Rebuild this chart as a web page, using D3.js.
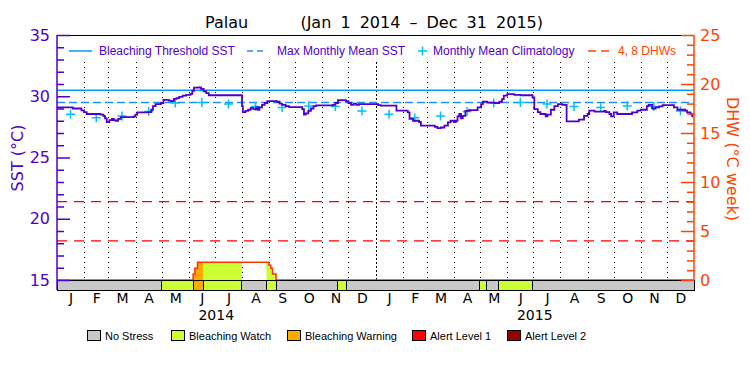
<!DOCTYPE html>
<html><head><meta charset="utf-8">
<script src="https://cdn.jsdelivr.net/npm/d3@7"></script>
<style>body{margin:0;background:#fff}svg{display:block}</style>
</head><body><svg id="c" width="750" height="375"></svg>
<script>
// ---------------- DATA ----------------
const titleSite = "Palau";
const titlePeriod = "(Jan 1 2014 \u2013 Dec 31 2015)";
const monthLetters = ["J","F","M","A","M","J","J","A","S","O","N","D"];
const yearLabels = ["2014","2015"];
const sstTicks = [15,20,25,30,35];
const dhwTicks = [0,5,10,15,20,25];
const mmm = 29.5;          // Max Monthly Mean SST
const threshold = 30.5;    // Bleaching Threshold SST
const dhwLevels = [4, 8];
const climatology = [28.54,28.24,28.38,28.76,29.45,29.5,29.36,29.17,29.09,29.2,29.17,28.79];
const sstSeries = [
 ["2014-01-01",29.1],["2014-01-19",29.0],["2014-01-29",28.85],["2014-02-01",28.7],["2014-02-04",28.55],
 ["2014-02-20",28.5],["2014-02-23",28.4],["2014-02-25",28.2],["2014-02-27",27.9],["2014-03-02",28.05],
 ["2014-03-05",28.15],["2014-03-07",28.05],["2014-03-09",28.0],["2014-03-12",28.15],["2014-03-15",28.3],
 ["2014-03-30",28.35],["2014-04-01",28.5],["2014-04-03",28.68],["2014-04-15",28.7],["2014-04-19",28.9],
 ["2014-04-21",29.2],["2014-04-24",29.35],["2014-04-30",29.45],["2014-05-03",29.7],["2014-05-09",29.65],
 ["2014-05-12",29.6],["2014-05-15",29.78],["2014-05-18",29.85],["2014-05-21",29.95],["2014-05-25",30.05],
 ["2014-05-29",30.12],["2014-06-03",30.2],["2014-06-05",30.45],["2014-06-07",30.7],["2014-06-12",30.72],
 ["2014-06-15",30.6],["2014-06-18",30.4],["2014-06-21",30.25],["2014-06-24",30.08],["2014-08-01",29.2],
 ["2014-08-02",28.7],["2014-08-05",28.8],["2014-08-08",28.9],["2014-08-11",29.05],["2014-08-14",28.95],
 ["2014-08-17",29.1],["2014-08-19",28.9],["2014-08-21",29.1],["2014-08-24",29.3],["2014-08-27",29.45],
 ["2014-08-30",29.6],["2014-09-10",29.55],["2014-09-13",29.4],["2014-09-16",29.3],["2014-09-20",29.2],
 ["2014-09-24",29.12],["2014-10-09",28.95],["2014-10-11",28.5],["2014-10-13",28.6],["2014-10-16",28.8],
 ["2014-10-19",29.0],["2014-10-22",29.2],["2014-10-25",29.25],["2014-11-13",29.3],["2014-11-16",29.45],
 ["2014-11-19",29.68],["2014-11-28",29.6],["2014-12-01",29.45],["2014-12-04",29.3],["2014-12-07",29.4],
 ["2014-12-10",29.3],["2014-12-13",29.35],
 ["2015-01-04",29.28],["2015-01-07",29.23],["2015-01-25",28.82],["2015-02-07",28.68],["2015-02-09",28.15],
 ["2015-02-13",28.0],["2015-02-20",27.9],["2015-02-22",27.6],["2015-03-10",27.5],["2015-03-13",27.4],
 ["2015-03-17",27.45],["2015-03-21",27.6],["2015-03-25",27.86],["2015-03-28",28.0],["2015-04-01",27.9],
 ["2015-04-03",28.0],["2015-04-05",28.35],["2015-04-07",28.55],["2015-04-09",28.2],["2015-04-11",28.4],
 ["2015-04-14",28.8],["2015-04-18",28.87],["2015-04-28",29.1],["2015-05-02",29.36],["2015-05-04",29.55],
 ["2015-05-09",29.48],["2015-05-17",29.45],["2015-05-23",29.55],["2015-05-26",29.77],["2015-05-28",30.05],
 ["2015-06-01",30.18],["2015-06-09",30.12],["2015-06-16",30.08],["2015-06-30",29.9],["2015-07-02",28.95],
 ["2015-07-06",28.7],["2015-07-09",28.55],["2015-07-15",28.35],["2015-07-17",28.5],["2015-07-21",28.9],
 ["2015-07-25",29.2],["2015-07-29",29.36],["2015-08-03",29.3],["2015-08-08",27.95],["2015-08-22",28.1],
 ["2015-08-28",28.4],["2015-09-01",28.55],["2015-09-03",28.82],["2015-09-09",28.75],["2015-09-20",28.8],
 ["2015-09-22",28.7],["2015-09-26",28.55],["2015-09-28",28.35],["2015-10-01",28.68],["2015-10-05",28.55],
 ["2015-10-22",28.68],["2015-10-28",28.82],["2015-11-01",28.9],["2015-11-08",29.2],["2015-11-10",29.3],
 ["2015-11-14",29.0],["2015-11-18",29.1],["2015-11-22",29.17],["2015-11-26",29.28],["2015-12-09",29.1],
 ["2015-12-13",28.9],["2015-12-22",28.82],["2015-12-24",28.68],["2015-12-28",28.55],["2015-12-30",28.35],
 ["2015-12-31",28.35]
];
const dhwSeries = [
 ["2014-01-01",0],["2014-06-06",0.6],["2014-06-08",1.2],["2014-06-11",1.8],["2014-09-01",1.5],
 ["2014-09-03",1.2],["2014-09-05",0.6],["2014-09-09",0],["2015-12-31",0]
];
const stressPeriods = [
 ["2014-01-01","2014-05-01",0],["2014-05-01","2014-06-06",1],["2014-06-06","2014-06-18",2],
 ["2014-06-18","2014-08-01",1],["2014-08-01","2014-08-29",0],["2014-08-29","2014-09-09",1],
 ["2014-09-09","2014-11-18",0],["2014-11-18","2014-11-29",1],["2014-11-29","2015-04-30",0],
 ["2015-04-30","2015-05-08",1],["2015-05-08","2015-05-22",0],["2015-05-22","2015-06-30",1],
 ["2015-06-30","2016-01-01",0]
];
const stressNames = ["No Stress","Bleaching Watch","Bleaching Warning","Alert Level 1","Alert Level 2"];
const stressColors = ["#c8c8c8","#ccff33","#ffaa00","#ff0000","#990000"];
const legendNames = ["Bleaching Threshold SST","Max Monthly Mean SST","Monthly Mean Climatology","4, 8 DHWs"];

// ---------------- STYLE / LAYOUT ----------------
const W = 750, H = 375;
const L = 57, R = 694, T = 35, B = 280, BB = 290;
const purple = "#5000cc", orange = "#ff4400", thrCol = "#0099ff", mmmCol = "#1f8fff", climCol = "#00c0ff";
const font = "DejaVu Sans, sans-serif", font2 = "Liberation Sans, Arial, sans-serif";

const parse = d3.utcParse("%Y-%m-%d");
const t0 = parse("2014-01-01"), t1 = parse("2016-01-01");
const x = d3.scaleUtc().domain([t0, t1]).range([L, R]);
const y = d3.scaleLinear().domain([sstTicks[0], sstTicks[sstTicks.length-1]]).range([B, T]);
const yD = d3.scaleLinear().domain([dhwTicks[0], dhwTicks[dhwTicks.length-1]]).range([B, T]);

const svg = d3.select("#c");
svg.append("rect").attr("width",W).attr("height",H).attr("fill","#fff");

// month dotted lines
const months = d3.utcMonth.range(t0, t1);
svg.append("g").selectAll("line").data(months.slice(1)).join("line")
  .attr("x1", d => Math.round(x(d)) + 0.5).attr("x2", d => Math.round(x(d)) + 0.5)
  .attr("y1", 62).attr("y2", B)
  .attr("stroke", "#000").attr("stroke-width", 1)
  .attr("stroke-dasharray", d => d.getUTCMonth() === 0 ? "2,2" : "1,4");

// DHW filled areas coloured by stress level
const dhw = dhwSeries.map(d => ({t: parse(d[0]), v: d[1]}));
const defs = svg.append("defs");
const area = d3.area().x(d => x(d.t)).y0(yD(0)).y1(d => yD(d.v)).curve(d3.curveStepAfter);
stressPeriods.forEach((p, i) => {
  if (p[2] === 0) return;
  const x0 = x(parse(p[0])), x1 = x(parse(p[1]));
  defs.append("clipPath").attr("id", "cp" + i).append("rect")
    .attr("x", x0).attr("y", T).attr("width", x1 - x0).attr("height", B - T);
  svg.append("path").datum(dhw).attr("d", area).attr("fill", stressColors[p[2]])
    .attr("clip-path", "url(#cp" + i + ")");
});
svg.append("path").datum(dhw)
  .attr("d", d3.line().x(d => x(d.t)).y(d => yD(d.v)).curve(d3.curveStepAfter))
  .attr("fill", "none").attr("stroke", "#ff3300").attr("stroke-width", 1.5);

// DHW level lines
svg.append("g").selectAll("line").data(dhwLevels).join("line")
  .attr("x1", L).attr("x2", R).attr("y1", d => yD(d)).attr("y2", d => yD(d))
  .attr("stroke", "#ff0000").attr("stroke-width", 1.2).attr("stroke-dasharray", "10,7");

// threshold & MMM
svg.append("line").attr("x1", L).attr("x2", R).attr("y1", y(threshold)).attr("y2", y(threshold))
  .attr("stroke", thrCol).attr("stroke-width", 1.5);
svg.append("line").attr("x1", L).attr("x2", R).attr("y1", y(mmm)).attr("y2", y(mmm))
  .attr("stroke", mmmCol).attr("stroke-width", 1.5).attr("stroke-dasharray", "8,4");

// climatology crosses
const climPts = [];
yearLabels.forEach(yr => climatology.forEach((v, m) => {
  const ms = d3.utcMonth.offset(parse(yr + "-01-01"), m), me = d3.utcMonth.offset(ms, 1);
  climPts.push({t: new Date((+ms + +me) / 2), v});
}));
const cs = 4.5;
svg.append("g").selectAll("path").data(climPts).join("path")
  .attr("d", d => `M${x(d.t)-cs},${y(d.v)}H${x(d.t)+cs}M${x(d.t)},${y(d.v)-cs}V${y(d.v)+cs}`)
  .attr("stroke", climCol).attr("stroke-width", 1.5).attr("fill", "none");

// SST line
const sst = sstSeries.map(d => ({t: parse(d[0]), v: d[1]}));
svg.append("path").datum(sst)
  .attr("d", d3.line().x(d => x(d.t)).y(d => y(d.v)).curve(d3.curveStepAfter))
  .attr("fill", "none").attr("stroke", purple).attr("stroke-width", 1.8);

// stress bar
svg.append("g").selectAll("rect").data(stressPeriods).join("rect")
  .attr("x", d => x(parse(d[0]))).attr("width", d => x(parse(d[1])) - x(parse(d[0])))
  .attr("y", B).attr("height", BB - B)
  .attr("fill", d => stressColors[d[2]]).attr("stroke", "#000").attr("stroke-width", 1)
  .attr("shape-rendering", "crispEdges");

// top border
svg.append("line").attr("x1", L).attr("x2", R).attr("y1", T + 0.5).attr("y2", T + 0.5)
  .attr("stroke", "#000").attr("stroke-width", 1);

// left axis
const gL = svg.append("g").attr("transform", `translate(${L},0)`);
gL.call(d3.axisLeft(y).tickValues(sstTicks).tickSize(-13).tickPadding(7));
gL.append("g").call(d3.axisLeft(y).tickValues(d3.range(sstTicks[0], sstTicks[sstTicks.length-1]).filter(v => !sstTicks.includes(v))).tickSize(-7).tickFormat(""));
gL.selectAll(".domain").remove();
gL.selectAll("line").attr("stroke", purple).attr("stroke-width", 1.5);
gL.selectAll("text").attr("fill", purple).attr("font-family", font).attr("font-size", 16);
gL.append("line").attr("x1", 0).attr("x2", 0).attr("y1", T).attr("y2", BB).attr("stroke", purple).attr("stroke-width", 1.5);

// right axis
const gR = svg.append("g").attr("transform", `translate(${R},0)`);
gR.call(d3.axisRight(yD).tickValues(dhwTicks).tickSize(-13).tickPadding(6));
gR.append("g").call(d3.axisRight(yD).tickValues(d3.range(dhwTicks[0], dhwTicks[dhwTicks.length-1]).filter(v => !dhwTicks.includes(v))).tickSize(-7).tickFormat(""));
gR.selectAll(".domain").remove();
gR.selectAll("line").attr("stroke", orange).attr("stroke-width", 1.5);
gR.selectAll("text").attr("fill", orange).attr("font-family", font).attr("font-size", 16);
gR.append("line").attr("x1", 0).attr("x2", 0).attr("y1", T).attr("y2", B).attr("stroke", orange).attr("stroke-width", 1.5);

// month axis
const mids = months.map(m => new Date((+m + +d3.utcMonth.offset(m, 1)) / 2));
const gB = svg.append("g").attr("transform", `translate(0,${BB})`);
gB.call(d3.axisBottom(x).tickValues(mids).tickSize(0).tickPadding(3)
  .tickFormat(d => monthLetters[d.getUTCMonth()]));
gB.select(".domain").remove();
gB.selectAll("text").attr("fill", "#000").attr("font-family", font).attr("font-size", 14);

// year labels
svg.append("g").selectAll("text").data(yearLabels).join("text")
  .attr("x", d => (x(parse(d + "-01-01")) + x(d3.utcYear.offset(parse(d + "-01-01"), 1))) / 2)
  .attr("y", 320).attr("text-anchor", "middle").attr("font-family", font).attr("font-size", 14)
  .text(d => d);

// axis titles
svg.append("text").attr("transform", "translate(23,158) rotate(-90)").attr("text-anchor", "middle")
  .attr("font-family", font).attr("font-size", 16).attr("fill", purple).text("SST (\u00b0C)");
svg.append("text").attr("transform", "translate(727,159) rotate(90)").attr("text-anchor", "middle")
  .attr("font-family", font).attr("font-size", 16).attr("fill", orange).text("DHW (\u00b0C week)");

// title
svg.append("text").attr("x", 205).attr("y", 28).attr("font-family", font).attr("font-size", 16).text(titleSite);
svg.append("text").attr("x", 543).attr("y", 28).attr("text-anchor", "end").attr("font-family", font)
  .attr("font-size", 16).attr("word-spacing", 4).text(titlePeriod);

// top legend
const lg = svg.append("g").attr("font-family", font2).attr("font-size", 12);
const ly = 51;
lg.append("line").attr("x1", 69).attr("x2", 92).attr("y1", ly).attr("y2", ly).attr("stroke", thrCol).attr("stroke-width", 1.5);
lg.append("text").attr("x", 99).attr("y", ly + 4).attr("fill", purple).text(legendNames[0]);
lg.append("line").attr("x1", 247).attr("x2", 266).attr("y1", ly).attr("y2", ly).attr("stroke", mmmCol).attr("stroke-width", 1.5).attr("stroke-dasharray", "6,4");
lg.append("text").attr("x", 277).attr("y", ly + 4).attr("fill", purple).text(legendNames[1]);
lg.append("path").attr("d", `M418,${ly}H427M422.5,${ly-4.5}V${ly+4.5}`).attr("stroke", climCol).attr("stroke-width", 1.5);
lg.append("text").attr("x", 433).attr("y", ly + 4).attr("fill", purple).text(legendNames[2]);
lg.append("line").attr("x1", 588).attr("x2", 612).attr("y1", ly).attr("y2", ly).attr("stroke", orange).attr("stroke-width", 1.5).attr("stroke-dasharray", "8,5");
lg.append("text").attr("x", 618).attr("y", ly + 4).attr("fill", orange).text(legendNames[3]);

// bottom legend
const bx = [87, 171, 287, 412, 507];
const bl = svg.append("g").attr("font-family", font2).attr("font-size", 11);
stressNames.forEach((n, i) => {
  bl.append("rect").attr("x", bx[i] + 0.5).attr("y", 330.5).attr("width", 13).attr("height", 10)
    .attr("fill", stressColors[i]).attr("stroke", "#000").attr("stroke-width", 1);
  bl.append("text").attr("x", bx[i] + 18).attr("y", 339.5).attr("fill", "#000").text(n);
});
</script></body></html>
